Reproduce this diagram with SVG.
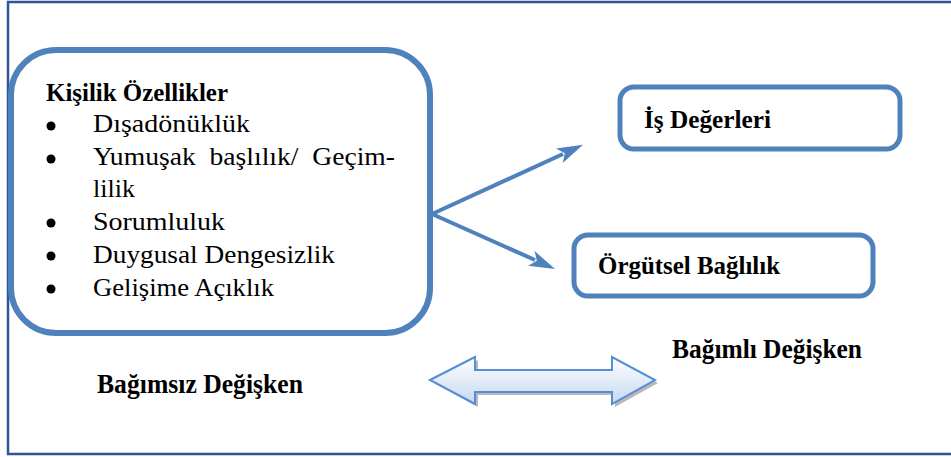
<svg xmlns="http://www.w3.org/2000/svg" width="951" height="457" viewBox="0 0 951 457">
<style>
.box{fill:#fff;stroke:#4F81BD;}
.t{font-family:"Liberation Serif","Times New Roman",serif;fill:#000;}
.b{font-weight:bold;}
.item{font-size:25px;}
.conn{stroke:#4F81BD;stroke-width:4;fill:none;}
</style>
<defs>
<marker id="ah" markerUnits="userSpaceOnUse" markerWidth="30" markerHeight="30" refX="4" refY="10" orient="auto" viewBox="0 0 30 20">
<path d="M0,2 L26,10 L0,18 L6,10 Z" fill="#4F81BD"/>
</marker>
<linearGradient id="g" x1="0" y1="0" x2="0" y2="1">
<stop offset="0" stop-color="#FFFFFF"/>
<stop offset="1" stop-color="#C5D8EF"/>
</linearGradient>
</defs>
<rect x="0" y="0" width="951" height="457" fill="#fff"/>
<path d="M960,2 H8 V454 H960" fill="none" stroke="#2F5597" stroke-width="2.5"/>

<g id="kisilik">
<rect class="box" x="11" y="50" width="419" height="283" rx="45" stroke-width="6"/>
<text class="t b" x="46" y="101" font-size="25" textLength="182" lengthAdjust="spacingAndGlyphs">Kişilik Özellikler</text>
<g fill="#000">
<circle cx="51" cy="126" r="4.5"/>
<circle cx="51" cy="159" r="4.5"/>
<circle cx="51" cy="223" r="4.5"/>
<circle cx="51" cy="256" r="4.5"/>
<circle cx="51" cy="289" r="4.5"/>
</g>
<text class="t item" x="93" y="132" textLength="157" lengthAdjust="spacingAndGlyphs">Dışadönüklük</text>
<text class="t item" x="93" y="165" xml:space="preserve" textLength="302" lengthAdjust="spacingAndGlyphs">Yumuşak  başlılık/  Geçim-</text>
<text class="t item" x="93" y="197" textLength="42" lengthAdjust="spacingAndGlyphs">lilik</text>
<text class="t item" x="93" y="230" textLength="132" lengthAdjust="spacingAndGlyphs">Sorumluluk</text>
<text class="t item" x="93" y="263" textLength="242" lengthAdjust="spacingAndGlyphs">Duygusal Dengesizlik</text>
<text class="t item" x="93" y="296" textLength="181" lengthAdjust="spacingAndGlyphs">Gelişime Açıklık</text>
</g>

<g id="is-degerleri">
<rect class="box" x="620" y="87" width="280" height="62" rx="14" stroke-width="5"/>
<text class="t b" x="644" y="128" font-size="25" textLength="127" lengthAdjust="spacingAndGlyphs">İş Değerleri</text>
</g>

<g id="orgutsel-baglilik">
<rect class="box" x="574" y="235" width="299" height="61" rx="14" stroke-width="5"/>
<text class="t b" x="598" y="274" font-size="25" textLength="182" lengthAdjust="spacingAndGlyphs">Örgütsel Bağlılık</text>
</g>

<g id="connectors">
<line class="conn" x1="432" y1="214" x2="563" y2="154" marker-end="url(#ah)"/>
<line class="conn" x1="432" y1="214" x2="535" y2="260" marker-end="url(#ah)"/>
</g>

<g id="labels">
<text class="t b" x="672" y="358" font-size="28" textLength="190" lengthAdjust="spacingAndGlyphs">Bağımlı Değişken</text>
<text class="t b" x="97" y="393" font-size="28" textLength="206" lengthAdjust="spacingAndGlyphs">Bağımsız Değişken</text>
</g>

<g id="double-arrow">
<path d="M434,383 L478,360 L478,373 L615,373 L615,360 L658,383 L615,407 L615,395 L478,395 L478,407 Z" fill="#9A9A9A" opacity="0.7"/>
<path d="M430,380 L475,357 L475,370 L612,370 L612,357 L655,380 L612,404 L612,392 L475,392 L475,404 Z" fill="url(#g)" stroke="#558ED5" stroke-width="2" stroke-linejoin="miter"/>
</g>
</svg>
